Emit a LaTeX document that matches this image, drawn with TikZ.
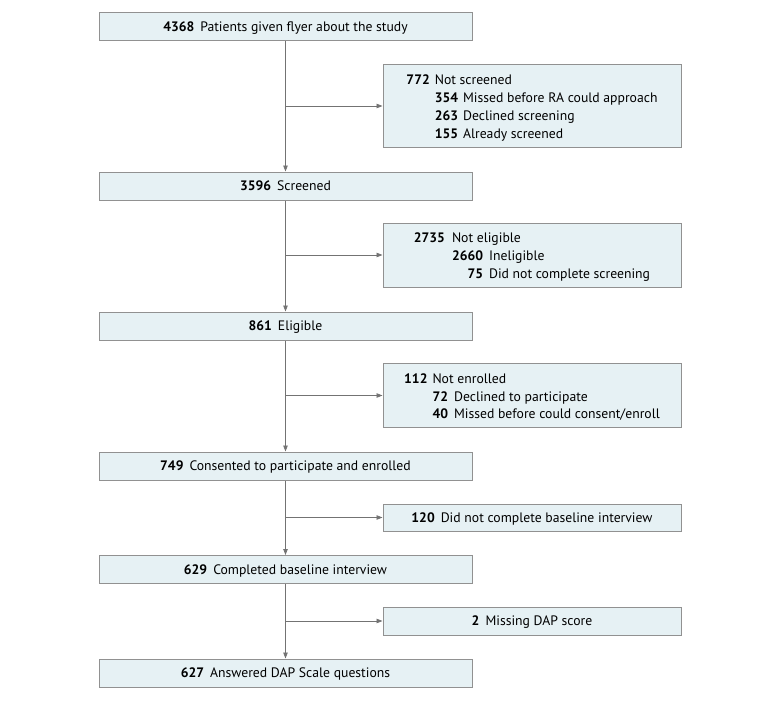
\documentclass[tikz,border=0pt]{standalone}
\usepackage{fontspec}
\setmainfont{PT Sans}
\usetikzlibrary{arrows.meta,positioning}
\definecolor{boxfill}{RGB}{230,241,244}
\definecolor{boxline}{RGB}{145,145,145}
\definecolor{arrline}{RGB}{115,115,115}
\begin{document}
\begin{tikzpicture}[x=1pt,y=-1pt,
  mainbox/.style={draw=boxline,fill=boxfill,line width=1pt,minimum width=373pt,minimum height=28pt,inner sep=0pt,anchor=center,text height=12.5pt,text depth=3pt},
  sidebox/.style={draw=boxline,fill=boxfill,line width=1pt,minimum width=298pt,inner sep=0pt,anchor=center},
  sidetext/.style={inner sep=0pt,anchor=center,yshift=-2pt},
  flow/.style={draw=arrline,line width=0.8pt,-{Triangle[length=6pt,width=4.5pt]}},
  font=\fontsize{13.7}{17.8}\selectfont]
\useasboundingbox (0,0) rectangle (780,701);
\newcommand{\nm}[1]{\textbf{#1}}
% main boxes
\node[mainbox] (m1) at (285.5,27) {\nm{4368}\hspace{6pt}Patients given flyer about the study};
\node[mainbox] (m2) at (285.5,186) {\nm{3596}\hspace{6pt}Screened};
\node[mainbox] (m3) at (285.5,326) {\nm{861}\hspace{6pt}Eligible};
\node[mainbox] (m4) at (285.5,466) {\nm{749}\hspace{6pt}Consented to participate and enrolled};
\node[mainbox] (m5) at (285.5,569.5) {\nm{629}\hspace{6pt}Completed baseline interview};
\node[mainbox] (m6) at (285.5,673) {\nm{627}\hspace{6pt}Answered DAP Scale questions};
% side boxes
\node[sidebox,minimum height=82pt] (s1) at (532,106) {};
\node[sidetext] (t1) at (s1.center) {\begin{tabular}{@{}r@{\hspace{5pt}}r@{\hspace{5pt}}l@{}}
\nm{772} & \multicolumn{2}{@{}l@{}}{Not screened}\\
 & \nm{354} & Missed before RA could approach\\
 & \nm{263} & Declined screening\\
 & \nm{155} & Already screened
\end{tabular}};
\node[sidebox,minimum height=64pt] (s2) at (532,255) {};
\node[sidetext] (t2) at (s2.center) {\begin{tabular}{@{}r@{\hspace{7pt}}r@{\hspace{6pt}}l@{}}
\nm{2735} & \multicolumn{2}{@{}l@{}}{Not eligible}\\
 & \nm{2660} & Ineligible\\
 & \nm{75} & Did not complete screening
\end{tabular}};
\node[sidebox,minimum height=64pt] (s3) at (532,395.5) {};
\node[sidetext] (t3) at (s3.center) {\begin{tabular}{@{}r@{\hspace{5pt}}r@{\hspace{6pt}}l@{}}
\nm{112} & \multicolumn{2}{@{}l@{}}{Not enrolled}\\
 & \nm{72} & Declined to participate\\
 & \nm{40} & Missed before could consent/enroll
\end{tabular}};
\node[sidebox,minimum height=27pt,text height=12.5pt,text depth=3pt] (s4) at (532,517.5) {\nm{120}\hspace{6pt}Did not complete baseline interview};
\node[sidebox,minimum height=28pt,text height=12.5pt,text depth=3pt] (s5) at (532,621) {\nm{2}\hspace{6pt}Missing DAP score};
% connectors
\draw[flow] (m1) -- (m2);
\draw[flow] (m2) -- (m3);
\draw[flow] (m3) -- (m4);
\draw[flow] (m4) -- (m5);
\draw[flow] (m5) -- (m6);
\draw[flow] (m1.south |- s1.west) -- (s1.west);
\draw[flow] (m2.south |- s2.west) -- (s2.west);
\draw[flow] (m3.south |- s3.west) -- (s3.west);
\draw[flow] (m4.south |- s4.west) -- (s4.west);
\draw[flow] (m5.south |- s5.west) -- (s5.west);
\end{tikzpicture}
\end{document}
